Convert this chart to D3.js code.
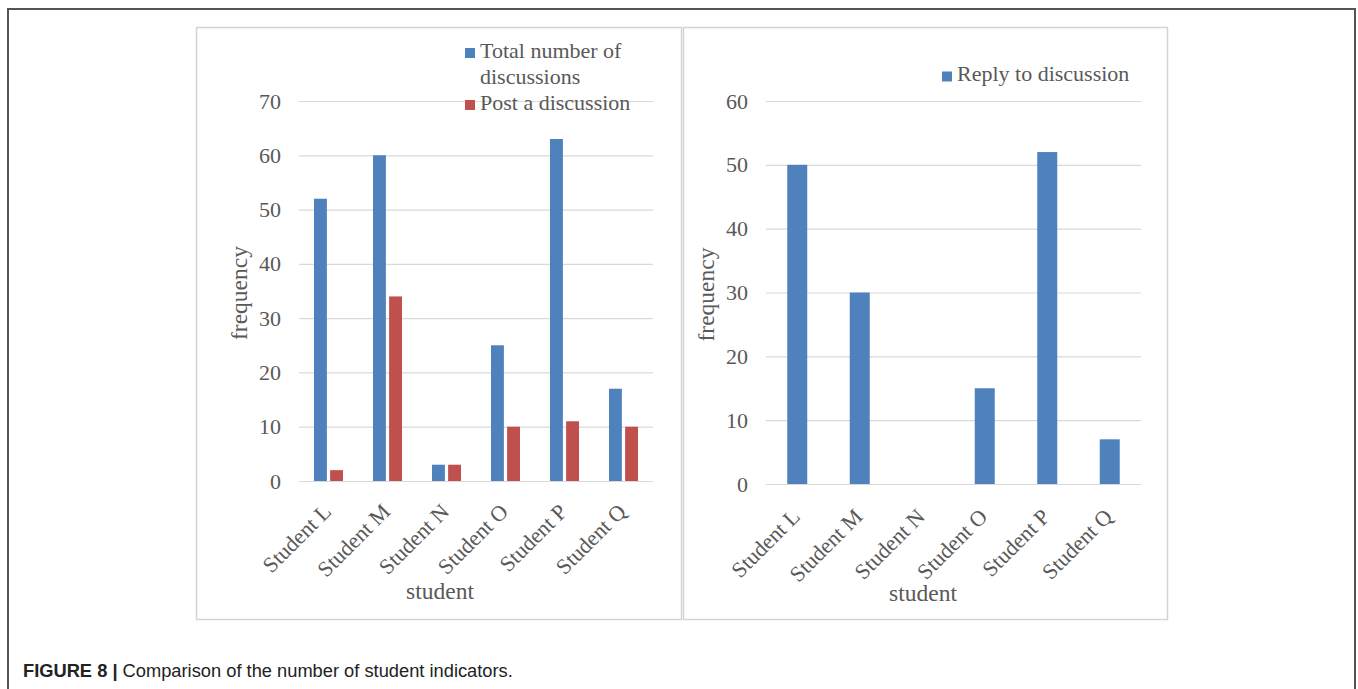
<!DOCTYPE html>
<html>
<head>
<meta charset="utf-8">
<script src="https://cdn.jsdelivr.net/npm/d3@7"></script>
<style>
  html, body { margin: 0; padding: 0; background: #fff; }
  svg { display: block; }
</style>
</head>
<body>
<svg id="fig" width="1358" height="689"></svg>
<script>
// Students on the category axis
const students = ["Student L", "Student M", "Student N", "Student O", "Student P", "Student Q"];

// Left panel series
const totalDiscussions = [52, 60, 3, 25, 63, 17];
const postDiscussion = [2, 34, 3, 10, 11, 10];

// Right panel series
const replyDiscussion = [50, 30, 0, 15, 52, 7];

// Tick values for the frequency axes
const leftTicks = [0, 10, 20, 30, 40, 50, 60, 70];
const rightTicks = [0, 10, 20, 30, 40, 50, 60];

const BLUE = "#4f81bd";
const RED = "#c0504d";
const GRID = "#d9d9d9";
const TEXT = "#595959";
const SERIF = "'Liberation Serif', 'Times New Roman', serif";
const FS = 22;        // tick labels, category labels, legend
const FS_TITLE = 23.5; // axis titles

const svg = d3.select("#fig");

// Outer figure frame (open at the bottom)
svg.append("path")
  .attr("d", "M8,689 L8,9 L1355,9 L1355,689")
  .attr("fill", "none")
  .attr("stroke", "#555")
  .attr("stroke-width", 2);

// Panel borders
[[196, 27, 485, 592], [683, 27, 484, 592]].forEach(([x, y, w, h]) => {
  svg.append("rect")
    .attr("x", x + 0.5).attr("y", y + 0.5)
    .attr("width", w).attr("height", h)
    .attr("fill", "#fff")
    .attr("stroke", "#d4d4d4")
    .attr("stroke-width", 1.5);
});

function drawPanel(opts) {
  const { x0, x1, yTop, yBottom, max, ticks, series, barPadInner, barPadOuter, subPad,
          yTitleX, xTitle, labelDx, labelDy } = opts;
  const g = svg.append("g");

  const y = d3.scaleLinear().domain([0, max]).range([yBottom, yTop]);
  const x = d3.scaleBand().domain(students).range([x0, x1])
    .paddingInner(barPadInner).paddingOuter(barPadOuter);
  const xs = d3.scaleBand().domain(series.map(s => s.name)).range([0, x.bandwidth()])
    .paddingInner(subPad).paddingOuter(0);

  // Gridlines and tick labels via a left axis
  const yAxis = d3.axisLeft(y).tickValues(ticks).tickSize(-(x1 - x0)).tickPadding(18)
    .tickFormat(d3.format("d"));
  const ya = g.append("g").attr("transform", `translate(${x0},0)`).call(yAxis);
  ya.select(".domain").remove();
  ya.selectAll(".tick line").attr("stroke", GRID).attr("stroke-width", 1.2);
  ya.selectAll(".tick text")
    .attr("fill", TEXT)
    .style("font-family", SERIF)
    .style("font-size", FS + "px");

  // Bars
  series.forEach(s => {
    g.append("g").selectAll("rect")
      .data(students.map((st, i) => ({ st, v: s.values[i] })))
      .join("rect")
      .attr("x", d => x(d.st) + xs(s.name))
      .attr("width", xs.bandwidth())
      .attr("y", d => y(d.v))
      .attr("height", d => y(0) - y(d.v))
      .attr("fill", s.color);
  });

  // Rotated category labels
  const xAxis = d3.axisBottom(x).tickSize(0).tickPadding(0);
  const xa = g.append("g").attr("transform", `translate(0,${yBottom})`).call(xAxis);
  xa.select(".domain").remove();
  xa.selectAll(".tick text")
    .attr("fill", TEXT)
    .attr("text-anchor", "end")
    .attr("dy", null)
    .attr("y", 0)
    .attr("transform", `translate(${labelDx},${labelDy}) rotate(-45)`)
    .style("font-family", SERIF)
    .style("font-size", FS + "px");

  // Axis titles
  g.append("text")
    .attr("transform", `translate(${yTitleX},${(yTop + yBottom) / 2 + 2}) rotate(-90)`)
    .attr("text-anchor", "middle")
    .attr("fill", TEXT)
    .style("font-family", SERIF)
    .style("font-size", FS_TITLE + "px")
    .text("frequency");

  g.append("text")
    .attr("x", xTitle[0]).attr("y", xTitle[1])
    .attr("text-anchor", "middle")
    .attr("fill", TEXT)
    .style("font-family", SERIF)
    .style("font-size", FS_TITLE + "px")
    .text("student");

  return g;
}

drawPanel({
  x0: 299, x1: 653, yTop: 101, yBottom: 481, max: 70, ticks: leftTicks,
  series: [
    { name: "Total number of discussions", values: totalDiscussions, color: BLUE },
    { name: "Post a discussion", values: postDiscussion, color: RED }
  ],
  barPadInner: 0.508, barPadOuter: 0.254, subPad: 0.2,
  yTitleX: 247, xTitle: [440, 599], labelDx: 4, labelDy: 32
});

drawPanel({
  x0: 766, x1: 1141, yTop: 101, yBottom: 484, max: 60, ticks: rightTicks,
  series: [
    { name: "Reply to discussion", values: replyDiscussion, color: BLUE }
  ],
  barPadInner: 0.68, barPadOuter: 0.34, subPad: 0,
  yTitleX: 714, xTitle: [923, 601], labelDx: 4, labelDy: 34
});

// Legends
function legendItem(x, y, color, lines) {
  svg.append("rect")
    .attr("x", x).attr("y", y - 9.5)
    .attr("width", 10).attr("height", 10)
    .attr("fill", color);
  const t = svg.append("text")
    .attr("x", x + 15).attr("y", y)
    .attr("fill", TEXT)
    .style("font-family", SERIF)
    .style("font-size", FS + "px");
  lines.forEach((ln, i) => {
    t.append("tspan").attr("x", x + 15).attr("dy", i === 0 ? 0 : 26).text(ln);
  });
}
legendItem(465, 57.5, BLUE, ["Total number of", "discussions"]);
legendItem(465, 109.5, RED, ["Post a discussion"]);
legendItem(942, 81, BLUE, ["Reply to discussion"]);

// Caption
const cap = svg.append("text")
  .attr("x", 23).attr("y", 677)
  .attr("fill", "#222")
  .style("font-family", "'Liberation Sans', Arial, sans-serif")
  .style("font-size", "18.3px");
cap.append("tspan").style("font-weight", "bold").text("FIGURE 8 | ");
cap.append("tspan").text("Comparison of the number of student indicators.");
</script>
</body>
</html>
